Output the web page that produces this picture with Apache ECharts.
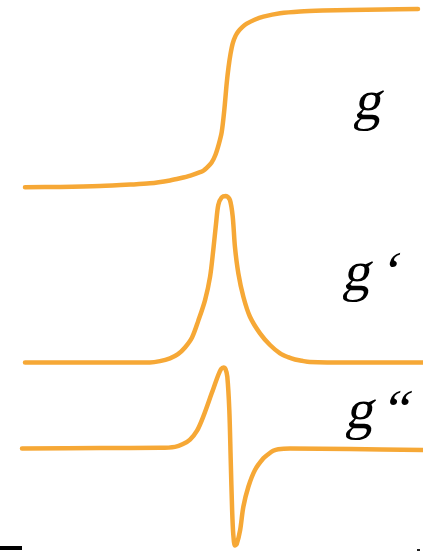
<!DOCTYPE html>
<html>
<head>
<meta charset="utf-8">
<style>
  html, body { margin: 0; padding: 0; background: #ffffff; }
  #chart { width: 423px; height: 551px; }
</style>
<script src="https://cdn.jsdelivr.net/npm/echarts@6/dist/echarts.min.js"></script>
</head>
<body>
<div id="chart"></div>
<script>
// Absorption signal g and its first and second derivatives, sampled along the field axis.
const fieldG = [-9.85, -8.1, -6.11, -4.6, -3.62, -2.62, -2.12, -1.6, -1.12, -0.95, -0.8, -0.55, -0.35, -0.18, -0.04, 0.09, 0.21, 0.3, 0.4, 0.51, 0.65, 0.79, 1.0, 1.21, 1.6, 2.04, 2.87, 3.87, 5.0, 6.36, 8.0, 9.75];
const valuesG = [0.004, 0.006, 0.011, 0.019, 0.026, 0.042, 0.054, 0.069, 0.088, 0.097, 0.11, 0.14, 0.185, 0.245, 0.31, 0.433, 0.582, 0.67, 0.745, 0.804, 0.845, 0.87, 0.895, 0.913, 0.935, 0.952, 0.971, 0.981, 0.986, 0.989, 0.992, 0.994];

const fieldG1 = [-9.85, -6.11, -3.62, -3.12, -2.62, -2.22, -1.87, -1.52, -1.21, -0.87, -0.62, -0.46, -0.32, -0.21, -0.04, 0.17, 0.37, 0.51, 0.62, 0.79, 1.04, 1.37, 1.87, 2.37, 2.87, 3.27, 3.62, 3.96, 4.36, 6.36, 10];
const valuesG1 = [0, 0, 0, 0.008, 0.025, 0.05, 0.09, 0.15, 0.25, 0.375, 0.515, 0.676, 0.836, 0.946, 0.992, 1.0, 0.976, 0.876, 0.695, 0.536, 0.395, 0.275, 0.175, 0.105, 0.055, 0.032, 0.018, 0.01, 0.003, 0, 0];

const fieldG2 = [-10, -6.11, -3.12, -2.37, -1.97, -1.62, -1.27, -0.96, -0.54, -0.21, -0.07, 0.05, 0.15, 0.24, 0.34, 0.41, 0.48, 0.54, 0.62, 0.71, 0.88, 1.04, 1.29, 1.62, 2.04, 2.28, 2.53, 2.78, 3.37, 6.36, 10];
const valuesG2 = [0, 0.005, 0.008, 0.02, 0.055, 0.11, 0.22, 0.393, 0.681, 0.907, 0.981, 1.0, 0.981, 0.886, 0.475, -0.142, -0.759, -1.068, -1.198, -1.179, -1.006, -0.719, -0.472, -0.265, -0.121, -0.07, -0.027, -0.008, 0, -0.006, -0.019];

const curveLabels = ['g', 'g\u2006\u2018', 'g\u2006\u201C'];

const lineColor = '#F6A836';

function pairs(xs, ys) {
  return xs.map((x, i) => [x, ys[i]]);
}

const grids = [
  { left: 22, right: 0, top: 8, height: 180 },
  { left: 22, right: 0, top: 196, height: 166.5 },
  { left: 22, right: 0, top: 367.5, height: 178.2 }
];
const yRanges = [[0, 1], [0, 1], [-1.2, 1]];
const seriesData = [pairs(fieldG, valuesG), pairs(fieldG1, valuesG1), pairs(fieldG2, valuesG2)];

const hiddenAxis = { show: false, splitLine: { show: false } };

const chart = echarts.init(document.getElementById('chart'), null, { renderer: 'canvas' });

// A horizontal shear (slant) written as rotate * scale * rotate, so the upright
// serif face leans like a math italic.
function slant(k) {
  const s = -k;
  const h = Math.sqrt(1 + s * s / 4);
  const s1 = h + Math.abs(s) / 2;
  const s2 = h - Math.abs(s) / 2;
  // eigenvector angles of M M^T and M^T M
  const a = 1 + s * s, lam = s1 * s1;
  const thU = Math.atan2(lam - a, s);   // left singular direction
  const thV = Math.atan2(lam - 1, s);   // right singular direction
  return { outerRot: -thU, sx: s1, sy: s2, innerRot: thV };
}

const labelPos = [[350, 132], [339, 303], [342, 441]];

function labelGraphic(text, pos) {
  const sl = slant(0.2);
  return {
    type: 'group',
    x: pos[0],
    y: pos[1],
    rotation: sl.outerRot,
    scaleX: sl.sx,
    scaleY: sl.sy,
    children: [{
      type: 'text',
      rotation: sl.innerRot,
      style: {
        text: text,
        fontFamily: '"Liberation Serif", "DejaVu Serif", serif',
        fontSize: 56,
        fill: '#000000',
        textAlign: 'left',
        textVerticalAlign: 'bottom'
      }
    }]
  };
}

chart.setOption({
  animation: false,
  backgroundColor: '#ffffff',
  grid: grids,
  xAxis: grids.map((g, i) => Object.assign({ type: 'value', gridIndex: i, min: -10, max: 10 }, hiddenAxis)),
  yAxis: grids.map((g, i) => Object.assign({ type: 'value', gridIndex: i, min: yRanges[i][0], max: yRanges[i][1] }, hiddenAxis)),
  series: seriesData.map((d, i) => ({
    type: 'line',
    xAxisIndex: i,
    yAxisIndex: i,
    data: d,
    smooth: 0.3,
    showSymbol: false,
    clip: false,
    lineStyle: { color: lineColor, width: 4.5, cap: 'round', join: 'round' }
  })),
  graphic: curveLabels.map((t, i) => labelGraphic(t, labelPos[i])).concat([
    { type: 'rect', shape: { x: 0, y: 546, width: 22, height: 4 }, style: { fill: '#000000' } },
    { type: 'rect', shape: { x: 417, y: 549, width: 3, height: 2 }, style: { fill: '#222222' } }
  ])
});
</script>
</body>
</html>
